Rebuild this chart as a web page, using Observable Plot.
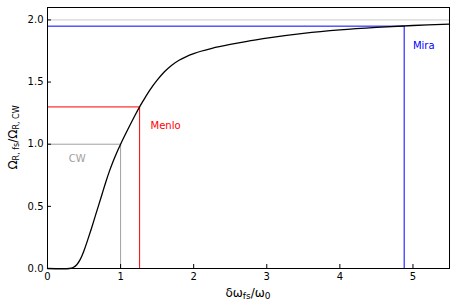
<!DOCTYPE html>
<html>
<head>
<meta charset="utf-8">
<script src="https://cdn.jsdelivr.net/npm/d3@7"></script>
<script src="https://cdn.jsdelivr.net/npm/@observablehq/plot@0.6"></script>
<style>
  html, body { margin: 0; padding: 0; background: #fff; }
  svg { font-family: "DejaVu Sans", sans-serif; }
</style>
</head>
<body>
<div id="chart"></div>
<script>
// Curve
const curveX = [0, 0.3, 0.35, 0.4, 0.45, 0.5, 0.55, 0.6, 0.65, 0.7, 0.75, 0.8, 0.85, 0.9, 0.95, 1.0, 1.1, 1.2, 1.26, 1.3, 1.4, 1.5, 1.6, 1.7, 1.8, 1.9, 2.0, 2.1, 2.25, 2.5, 2.75, 3.0, 3.5, 4.0, 4.5, 5.0, 5.5];
const curveY = [0, 0, 0.008, 0.03, 0.075, 0.145, 0.23, 0.32, 0.415, 0.51, 0.605, 0.70, 0.7875, 0.865, 0.935, 1.0, 1.12, 1.235, 1.30, 1.34, 1.435, 1.515, 1.583, 1.636, 1.676, 1.705, 1.728, 1.748, 1.772, 1.803, 1.830, 1.854, 1.892, 1.92, 1.94, 1.955, 1.966];

// Reference markers
const markerNames = ["CW", "Menlo", "Mira"];
const markerX = [1.0, 1.26, 4.88];
const markerY = [1.0, 1.3, 1.95];
const markerColors = ["#a0a0a0", "red", "blue"];
const labelX = [0.29, 1.41, 5.0];
const labelY = [0.885, 1.145, 1.79];

const topLineY = [2.0];
const xTicks = [0, 1, 2, 3, 4, 5];
const yTicks = [0, 0.5, 1.0, 1.5, 2.0];

const curve = curveX.map((x, i) => ({x, y: curveY[i]}));
const markers = markerNames.map((name, i) => ({name, x: markerX[i], y: markerY[i], color: markerColors[i], lx: labelX[i], ly: labelY[i]}));

const plot = Plot.plot({
  width: 457,
  height: 307,
  marginLeft: 47,
  marginRight: 8,
  marginTop: 7,
  marginBottom: 39,
  style: {fontFamily: "DejaVu Sans, sans-serif", fontSize: "10px", color: "black", background: "white"},
  x: {domain: [0, 5.5], label: null},
  y: {domain: [0, 2.1], label: null},
  marks: [
    Plot.ruleY(topLineY, {y: d => d, stroke: "#cccccc", strokeWidth: 1}),
    Plot.ruleY(markers, {y: "y", x1: 0, x2: "x", stroke: "color", strokeWidth: 1}),
    Plot.ruleX(markers, {x: "x", y1: 0, y2: "y", stroke: "color", strokeWidth: 1}),
    Plot.line(curve, {x: "x", y: "y", stroke: "black", strokeWidth: 1.3, curve: "catmull-rom"}),
    Plot.text(markers, {x: "lx", y: "ly", text: "name", fill: "color", textAnchor: "start", fontSize: 10}),
    Plot.axisX(xTicks, {tickSize: -4, tickPadding: 8, fontSize: 10, stroke: "black", fill: "black"}),
    Plot.axisY(yTicks, {tickSize: -4, tickPadding: 8, fontSize: 10, tickFormat: d3.format(".1f"), stroke: "black", fill: "black"}),
    Plot.frame({stroke: "black", strokeWidth: 1})
  ]
});

document.getElementById("chart").appendChild(plot);

// Axis labels with subscripts (real text)
const svg = d3.select(plot);
const xs = plot.scale("x"), ys = plot.scale("y");
const cx = (xs.apply(0) + xs.apply(5.5)) / 2;
const cy = (ys.apply(0) + ys.apply(2.1)) / 2;

const xl = svg.append("text")
  .attr("x", cx).attr("y", 297)
  .attr("text-anchor", "middle")
  .attr("font-size", 12).attr("fill", "black")
  .attr("font-family", "DejaVu Sans, sans-serif");
xl.append("tspan").text("δω");
xl.append("tspan").attr("font-size", 9).attr("dy", 2).text("fs");
xl.append("tspan").attr("dy", -2).text("/ω");
xl.append("tspan").attr("font-size", 9).attr("dy", 2).text("0");

const yl = svg.append("text")
  .attr("transform", `translate(17,${cy}) rotate(-90)`)
  .attr("text-anchor", "middle")
  .attr("font-size", 12).attr("fill", "black")
  .attr("font-family", "DejaVu Sans, sans-serif");
yl.append("tspan").text("Ω");
yl.append("tspan").attr("font-size", 8).attr("dy", 2).text("R, fs");
yl.append("tspan").attr("dy", -2).text("/Ω");
yl.append("tspan").attr("font-size", 8).attr("dy", 2).text("R, CW");
</script>
</body>
</html>
